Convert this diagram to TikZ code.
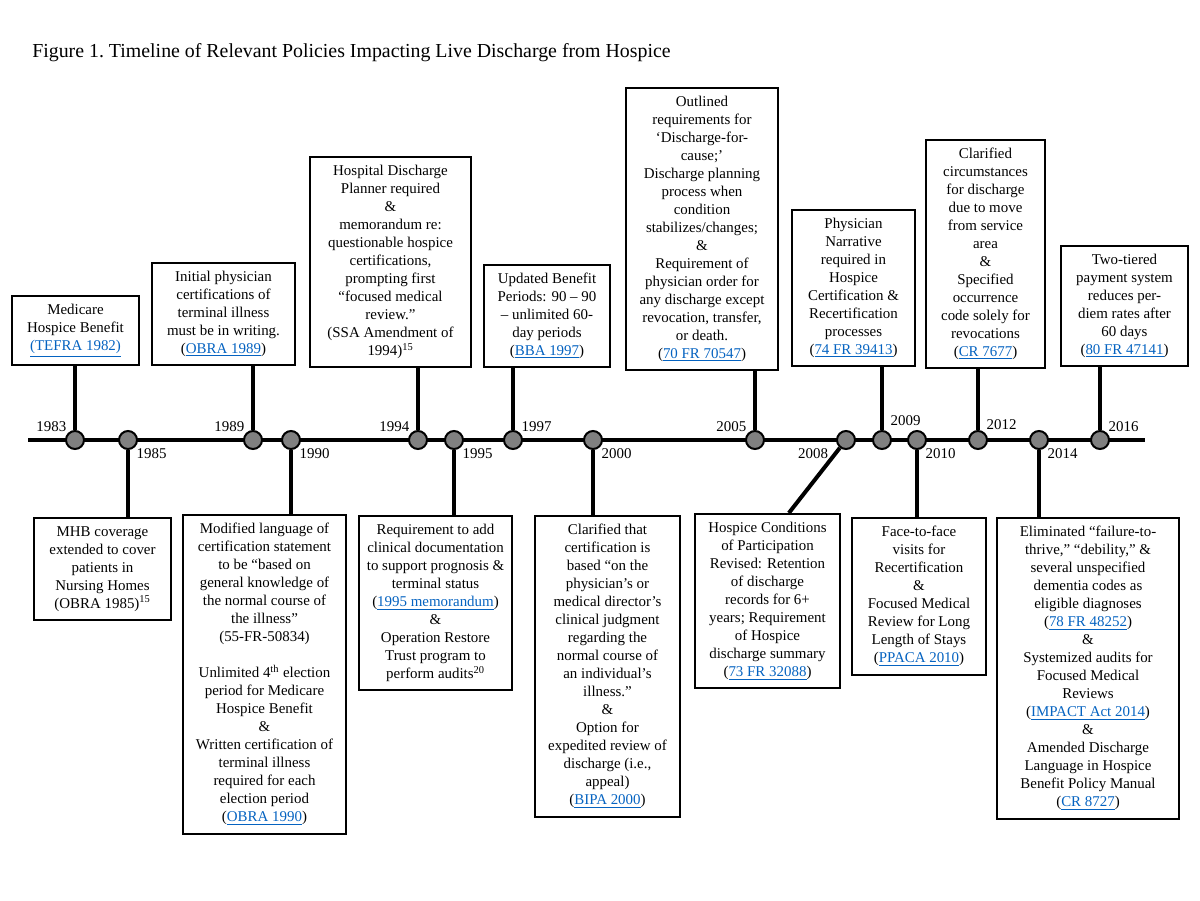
\documentclass[tikz,border=0pt]{standalone}
\usepackage{fontspec}
\setmainfont{Liberation Serif}
\definecolor{linkblue}{RGB}{5,99,193}
\definecolor{dotgray}{RGB}{128,128,128}
\newcommand{\tlfont}{\fontsize{11.2pt}{13.5pt}\selectfont}
\newcommand{\lnk}[1]{\textcolor{linkblue}{\underline{#1}}}

\tikzset{
	evbox/.style={draw, line width=1.5pt, align=center, font=\tlfont,
			inner xsep=2pt, inner ysep=6.3pt, minimum width=#1},
	yrdot/.style={circle, draw, line width=1.5pt, fill=dotgray,
			minimum size=13.5pt, inner sep=0pt},
	yr/.style={font=\tlfont, inner sep=1pt},
	axisline/.style={line width=3pt},
	stem/.style={line width=3pt},
}

\begin{document}
\begin{tikzpicture}[x=0.75pt, y=-0.75pt]
	\path[fill=white] (0,0) rectangle (1200,900);
	\node[anchor=base west, inner sep=0pt, font=\fontsize{14.9pt}{18pt}\selectfont] (title) at (32,57)
		{Figure 1.\ Timeline of Relevant Policies Impacting Live Discharge from Hospice};

	% time axis
	\coordinate (axstart) at (28,440);
	\coordinate (axend) at (1145,440);
	\draw[axisline] (axstart) -- (axend);

	% year markers
	\node[yrdot, label={[yr]above left:1983}] (y1983) at (75,440) {};
	\node[yrdot, label={[yr]below right:1985}] (y1985) at (128,440) {};
	\node[yrdot, label={[yr]above left:1989}] (y1989) at (253,440) {};
	\node[yrdot, label={[yr]below right:1990}] (y1990) at (291,440) {};
	\node[yrdot, label={[yr]above left:1994}] (y1994) at (418,440) {};
	\node[yrdot, label={[yr]below right:1995}] (y1995) at (454,440) {};
	\node[yrdot, label={[yr]above right:1997}] (y1997) at (513,440) {};
	\node[yrdot, label={[yr]below right:2000}] (y2000) at (593,440) {};
	\node[yrdot, label={[yr]above left:2005}] (y2005) at (755,440) {};
	\node[yrdot, label={[yr, xshift=-7pt]below left:2008}] (y2008) at (846,440) {};
	\node[yrdot, label={[yr, yshift=4pt]above right:2009}] (y2009) at (882,440) {};
	\node[yrdot, label={[yr]below right:2010}] (y2010) at (917,440) {};
	\node[yrdot, label={[yr, yshift=1pt]above right:2012}] (y2012) at (978,440) {};
	\node[yrdot, label={[yr]below right:2014}] (y2014) at (1039,440) {};
	\node[yrdot, label={[yr]above right:2016}] (y2016) at (1100,440) {};

	% events above the axis
	\node[evbox=95.25pt, anchor=south] (tefra) at (75.5,366)
		{Medicare\\ Hospice Benefit\\ \lnk{(TEFRA 1982)}};
	\node[evbox=107.25pt, anchor=south] (obra89) at (223.5,366)
		{Initial physician\\ certifications of\\ terminal illness\\ must be in writing.\\ (\lnk{OBRA 1989})};
	\node[evbox=120.75pt, anchor=south] (ssa94) at (390.5,368)
		{Hospital Discharge\\ Planner required\\ \&\\ memorandum re:\\ questionable hospice\\ certifications,\\
			prompting first\\ “focused medical\\ review.”\\ (SSA Amendment of\\ 1994)\textsuperscript{15}};
	\node[evbox=94.5pt, anchor=south] (bba97) at (547,368)
		{Updated Benefit\\ Periods: 90 – 90\\ – unlimited 60-\\ day periods\\ (\lnk{BBA 1997})};
	\node[evbox=114pt, anchor=south] (fr05) at (702,371)
		{Outlined\\ requirements for\\ ‘Discharge-for-\\ cause;’\\ Discharge planning\\ process when\\ condition\\
			stabilizes/changes;\\ \&\\ Requirement of\\ physician order for\\ any discharge except\\
			revocation, transfer,\\ or death.\\ (\lnk{70 FR 70547})};
	\node[evbox=92.25pt, anchor=south] (fr09) at (853.5,367)
		{Physician\\ Narrative\\ required in\\ Hospice\\ Certification \&\\ Recertification\\ processes\\ (\lnk{74 FR 39413})};
	\node[evbox=89.25pt, anchor=south] (cr12) at (985.5,369)
		{Clarified\\ circumstances\\ for discharge\\ due to move\\ from service\\ area\\ \&\\ Specified\\ occurrence\\
			code solely for\\ revocations\\ (\lnk{CR 7677})};
	\node[evbox=95.25pt, anchor=south] (fr16) at (1124.5,367)
		{Two-tiered\\ payment system\\ reduces per-\\ diem rates after\\ 60 days\\ (\lnk{80 FR 47141})};

	% events below the axis
	\node[evbox=102.75pt, anchor=north] (obra85) at (102.5,517)
		{MHB coverage\\ extended to cover\\ patients in\\ Nursing Homes\\ (OBRA 1985)\textsuperscript{15}};
	\node[evbox=122.25pt, anchor=north] (obra90) at (264.5,514)
		{Modified language of\\ certification statement\\ to be “based on\\ general knowledge of\\ the normal course of\\
			the illness”\\ (55-FR-50834)\\ \mbox{}\\ Unlimited 4\textsuperscript{th} election\\ period for Medicare\\
			Hospice Benefit\\ \&\\ Written certification of\\ terminal illness\\ required for each\\ election period\\
			(\lnk{OBRA 1990})};
	\node[evbox=114.75pt, anchor=north] (memo95) at (435.5,515)
		{Requirement to add\\ clinical documentation\\ to support prognosis \&\\ terminal status\\
			(\lnk{1995 memorandum})\\ \&\\ Operation Restore\\ Trust program to\\ perform audits\textsuperscript{20}};
	\node[evbox=108.75pt, anchor=north] (bipa00) at (607.5,515)
		{Clarified that\\ certification is\\ based “on the\\ physician’s or\\ medical director’s\\ clinical judgment\\
			regarding the\\ normal course of\\ an individual’s\\ illness.”\\ \&\\ Option for\\ expedited review of\\
			discharge (i.e.,\\ appeal)\\ (\lnk{BIPA 2000})};
	\node[evbox=108.75pt, anchor=north] (fr08) at (767.5,513)
		{Hospice Conditions\\ of Participation\\ Revised: Retention\\ of discharge\\ records for 6+\\
			years; Requirement\\ of Hospice\\ discharge summary\\ (\lnk{73 FR 32088})};
	\node[evbox=100.5pt, anchor=north] (ppaca10) at (919,517)
		{Face-to-face\\ visits for\\ Recertification\\ \&\\ Focused Medical\\ Review for Long\\ Length of Stays\\
			(\lnk{PPACA 2010})};
	\node[evbox=136.5pt, anchor=north] (cr14) at (1088,517)
		{Eliminated “failure-to-\\ thrive,” “debility,” \&\\ several unspecified\\ dementia codes as\\
			eligible diagnoses\\ (\lnk{78 FR 48252})\\ \&\\ Systemized audits for\\ Focused Medical\\ Reviews\\
			(\lnk{IMPACT Act 2014})\\ \&\\ Amended Discharge\\ Language in Hospice\\ Benefit Policy Manual\\
			(\lnk{CR 8727})};

	% stems
	\draw[stem] (tefra.south -| y1983) -- (y1983);
	\draw[stem] (obra89.south -| y1989) -- (y1989);
	\draw[stem] (ssa94.south -| y1994) -- (y1994);
	\draw[stem] (bba97.south -| y1997) -- (y1997);
	\draw[stem] (fr05.south -| y2005) -- (y2005);
	\draw[stem] (fr09.south -| y2009) -- (y2009);
	\draw[stem] (cr12.south -| y2012) -- (y2012);
	\draw[stem] (fr16.south -| y2016) -- (y2016);
	\draw[stem] (obra85.north -| y1985) -- (y1985);
	\draw[stem] (obra90.north -| y1990) -- (y1990);
	\draw[stem] (memo95.north -| y1995) -- (y1995);
	\draw[stem] (bipa00.north -| y2000) -- (y2000);
	\draw[stem] ([xshift=16pt]fr08.north) -- (y2008);
	\draw[stem] (ppaca10.north -| y2010) -- (y2010);
	\draw[stem] (cr14.north -| y2014) -- (y2014);
\end{tikzpicture}
\end{document}
